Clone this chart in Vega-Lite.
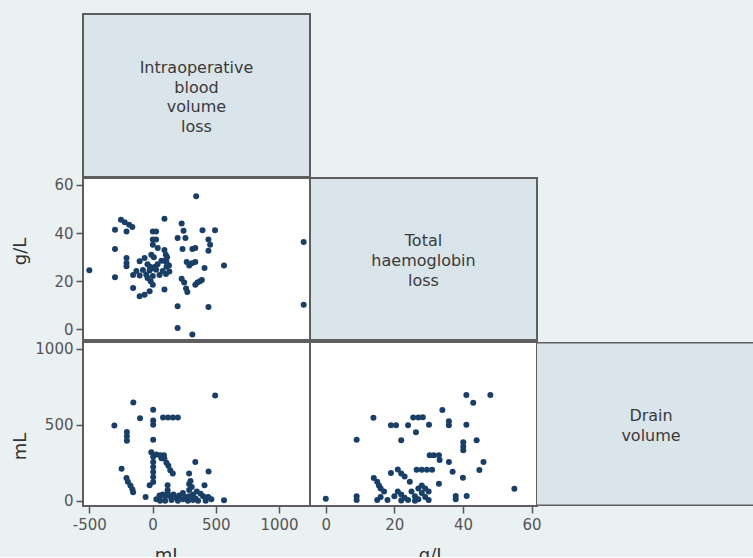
{
  "$schema": "https://vega.github.io/schema/vega-lite/v6.json",
  "background": "#eaf1f3",
  "padding": {"left": 10, "top": 13, "right": 0, "bottom": -8},
  "columns": 3,
  "spacing": 0,
  "bounds": "flush",
  "align": "all",
  "config": {
    "font": "DejaVu Sans",
    "view": {"stroke": "#5e5e5e", "strokeWidth": 2, "fill": "white"},
    "axis": {
      "domain": false, "grid": false, "ticks": true, "tickColor": "#555555", "tickWidth": 1.5, "tickSize": 7,
      "labelFont": "DejaVu Sans", "labelFontSize": 15, "labelColor": "#555555", "labelFlush": false, "labelOverlap": false,
      "labelExpr": "toString(datum.value)",
      "titleFont": "DejaVu Sans", "titleFontSize": 18, "titleColor": "#333333", "titleFontWeight": "normal"
    },
    "axisX": {"labelPadding": 4},
    "axisY": {"labelPadding": 3},
    "point": {"filled": true, "size": 36, "color": "#1a3f66", "opacity": 1}
  },
  "datasets": {
    "hbBlood": [
      {"blood": -500, "hb": 24.5}, {"blood": -297, "hb": 41.4}, {"blood": -297, "hb": 33.4}, {"blood": -297, "hb": 21.6},
      {"blood": -250, "hb": 45.5}, {"blood": -220, "hb": 44.5}, {"blood": -185, "hb": 43.5}, {"blood": -160, "hb": 42.5},
      {"blood": -206, "hb": 40.7}, {"blood": -206, "hb": 29.6}, {"blood": -206, "hb": 27.6}, {"blood": -206, "hb": 26.2},
      {"blood": -154, "hb": 17.2}, {"blood": -154, "hb": 22.6}, {"blood": -128, "hb": 24.2}, {"blood": -102, "hb": 22.4},
      {"blood": -76, "hb": 24.6}, {"blood": -50, "hb": 22.8}, {"blood": -23, "hb": 24.4}, {"blood": 2, "hb": 22.2},
      {"blood": 28, "hb": 24.8}, {"blood": 55, "hb": 22.6}, {"blood": 80, "hb": 24.2}, {"blood": 106, "hb": 23},
      {"blood": 133, "hb": 24}, {"blood": -102, "hb": 28.3}, {"blood": -63, "hb": 29.6}, {"blood": -40, "hb": 27},
      {"blood": -20, "hb": 26}, {"blood": 0, "hb": 25.5}, {"blood": 20, "hb": 26}, {"blood": 40, "hb": 27},
      {"blood": -10, "hb": 31}, {"blood": 10, "hb": 30}, {"blood": 2, "hb": 40.7}, {"blood": 28, "hb": 40.7},
      {"blood": 2, "hb": 37.3}, {"blood": 28, "hb": 37.3}, {"blood": 2, "hb": 35.2}, {"blood": 41, "hb": 33.8},
      {"blood": 94, "hb": 33}, {"blood": 105, "hb": 31}, {"blood": 115, "hb": 30}, {"blood": 70, "hb": 28.5},
      {"blood": 95, "hb": 28.5}, {"blood": 110, "hb": 28}, {"blood": 110, "hb": 26}, {"blood": 130, "hb": 26.5},
      {"blood": -40, "hb": 21.3}, {"blood": -15, "hb": 20}, {"blood": 2, "hb": 18.5}, {"blood": -23, "hb": 15.8},
      {"blood": -63, "hb": 14.4}, {"blood": -102, "hb": 13.7}, {"blood": 94, "hb": 16.5}, {"blood": 94, "hb": 46},
      {"blood": 230, "hb": 44}, {"blood": 245, "hb": 41}, {"blood": 260, "hb": 38}, {"blood": 198, "hb": 38},
      {"blood": 237, "hb": 33.4}, {"blood": 315, "hb": 33.4}, {"blood": 270, "hb": 28}, {"blood": 290, "hb": 26.5},
      {"blood": 338, "hb": 28}, {"blood": 311, "hb": 27.5}, {"blood": 230, "hb": 21}, {"blood": 250, "hb": 19.5},
      {"blood": 265, "hb": 17}, {"blood": 275, "hb": 15.5}, {"blood": 338, "hb": 18.5}, {"blood": 355, "hb": 19.5},
      {"blood": 375, "hb": 20}, {"blood": 390, "hb": 20.5}, {"blood": 198, "hb": 9.6}, {"blood": 198, "hb": 0.5},
      {"blood": 315, "hb": -2.2}, {"blood": 345, "hb": 55.3}, {"blood": 395, "hb": 41.2}, {"blood": 494, "hb": 41.2},
      {"blood": 442, "hb": 37.3}, {"blood": 455, "hb": 35.2}, {"blood": 442, "hb": 32.7}, {"blood": 338, "hb": 33.8},
      {"blood": 411, "hb": 25.5}, {"blood": 565, "hb": 26.5}, {"blood": 442, "hb": 9.3}, {"blood": 1195, "hb": 36.3},
      {"blood": 1195, "hb": 10.2}
    ],
    "drainBlood": [
      {"blood": 495, "drain": 693}, {"blood": -152, "drain": 647}, {"blood": 5, "drain": 599}, {"blood": 5, "drain": 529},
      {"blood": 5, "drain": 500}, {"blood": -99, "drain": 544}, {"blood": 83, "drain": 549}, {"blood": 122, "drain": 549},
      {"blood": 161, "drain": 549}, {"blood": 200, "drain": 549}, {"blood": -302, "drain": 496}, {"blood": -203, "drain": 452},
      {"blood": -203, "drain": 424}, {"blood": -203, "drain": 395}, {"blood": 5, "drain": 401}, {"blood": -10, "drain": 320},
      {"blood": 30, "drain": 305}, {"blood": 5, "drain": 290}, {"blood": 60, "drain": 300}, {"blood": 70, "drain": 280},
      {"blood": 90, "drain": 300}, {"blood": 94, "drain": 276}, {"blood": 110, "drain": 250}, {"blood": 125, "drain": 230},
      {"blood": 140, "drain": 200}, {"blood": 160, "drain": 180}, {"blood": 5, "drain": 255}, {"blood": 5, "drain": 222},
      {"blood": 5, "drain": 189}, {"blood": 5, "drain": 156}, {"blood": 5, "drain": 123}, {"blood": -23, "drain": 101},
      {"blood": -245, "drain": 211}, {"blood": -206, "drain": 150}, {"blood": -195, "drain": 125}, {"blood": -175, "drain": 100},
      {"blood": -160, "drain": 75}, {"blood": -154, "drain": 55}, {"blood": -55, "drain": 24}, {"blood": 55, "drain": 35},
      {"blood": 55, "drain": 13}, {"blood": 119, "drain": 101}, {"blood": 119, "drain": 68}, {"blood": 80, "drain": 40},
      {"blood": 100, "drain": 30}, {"blood": 120, "drain": 45}, {"blood": 140, "drain": 30}, {"blood": 165, "drain": 40},
      {"blood": 190, "drain": 20}, {"blood": 210, "drain": 35}, {"blood": 240, "drain": 10}, {"blood": 260, "drain": 25},
      {"blood": 338, "drain": 255}, {"blood": 289, "drain": 180}, {"blood": 289, "drain": 110}, {"blood": 289, "drain": 70},
      {"blood": 289, "drain": 30}, {"blood": 300, "drain": 130}, {"blood": 310, "drain": 90}, {"blood": 320, "drain": 40},
      {"blood": 340, "drain": 15}, {"blood": 350, "drain": 60}, {"blood": 411, "drain": 101}, {"blood": 443, "drain": 193},
      {"blood": 380, "drain": 45}, {"blood": 400, "drain": 30}, {"blood": 440, "drain": 25}, {"blood": 465, "drain": 10},
      {"blood": 565, "drain": 3}, {"blood": 30, "drain": 10}, {"blood": 60, "drain": 0}, {"blood": 150, "drain": 5},
      {"blood": 280, "drain": 0}, {"blood": 320, "drain": 5}, {"blood": 360, "drain": 0}, {"blood": 420, "drain": 0},
      {"blood": 100, "drain": 0}, {"blood": 200, "drain": 0}, {"blood": 240, "drain": 50}
    ],
    "drainHb": [
      {"hb": 0, "drain": 13}, {"hb": 9, "drain": 401}, {"hb": 9, "drain": 30}, {"hb": 9, "drain": 5},
      {"hb": 13.9, "drain": 546}, {"hb": 19, "drain": 498}, {"hb": 20.5, "drain": 498}, {"hb": 24, "drain": 498},
      {"hb": 25.5, "drain": 548}, {"hb": 27, "drain": 548}, {"hb": 28.3, "drain": 550}, {"hb": 26.3, "drain": 451},
      {"hb": 30.1, "drain": 500}, {"hb": 22, "drain": 399}, {"hb": 34, "drain": 597}, {"hb": 35.9, "drain": 524},
      {"hb": 35.9, "drain": 498}, {"hb": 41, "drain": 500}, {"hb": 41, "drain": 697}, {"hb": 43, "drain": 646},
      {"hb": 48, "drain": 697}, {"hb": 40.1, "drain": 386}, {"hb": 40.1, "drain": 358}, {"hb": 40.1, "drain": 332},
      {"hb": 44, "drain": 399}, {"hb": 30.3, "drain": 300}, {"hb": 31.5, "drain": 300}, {"hb": 33, "drain": 300},
      {"hb": 33.2, "drain": 268}, {"hb": 35.9, "drain": 255}, {"hb": 37, "drain": 191}, {"hb": 46, "drain": 255},
      {"hb": 44.8, "drain": 202}, {"hb": 40, "drain": 152}, {"hb": 33, "drain": 112}, {"hb": 26.5, "drain": 204},
      {"hb": 28, "drain": 204}, {"hb": 29.5, "drain": 204}, {"hb": 31, "drain": 204}, {"hb": 19, "drain": 183},
      {"hb": 21, "drain": 205}, {"hb": 22, "drain": 180}, {"hb": 23, "drain": 160}, {"hb": 24.5, "drain": 125},
      {"hb": 14, "drain": 150}, {"hb": 15, "drain": 125}, {"hb": 15.5, "drain": 100}, {"hb": 16, "drain": 80},
      {"hb": 17, "drain": 60}, {"hb": 16, "drain": 25}, {"hb": 15, "drain": 5}, {"hb": 22, "drain": 40},
      {"hb": 23, "drain": 20}, {"hb": 24, "drain": 5}, {"hb": 25, "drain": 60}, {"hb": 26, "drain": 30},
      {"hb": 27, "drain": 10}, {"hb": 28, "drain": 50}, {"hb": 29, "drain": 25}, {"hb": 30, "drain": 5},
      {"hb": 26, "drain": 0}, {"hb": 22, "drain": 2}, {"hb": 20, "drain": 30}, {"hb": 21, "drain": 60},
      {"hb": 28, "drain": 100}, {"hb": 29, "drain": 80}, {"hb": 30, "drain": 60}, {"hb": 27, "drain": 80},
      {"hb": 37.9, "drain": 31}, {"hb": 37.9, "drain": 9}, {"hb": 41.1, "drain": 31}, {"hb": 55, "drain": 79},
      {"hb": 18, "drain": 5}
    ]
  },
  "concat": [
    {
      "width": 227, "height": 163,
      "view": {"fill": "#dae4eb", "stroke": "#5e5e5e", "strokeWidth": 2},
      "data": {"values": [{"label": "Intraoperative\nblood\nvolume\nloss"}]},
      "mark": {"type": "text", "lineBreak": "\n", "lineHeight": 19.5, "fontSize": 16, "font": "DejaVu Sans", "color": "#3a3a3a", "baseline": "middle", "dy": -27.5},
      "encoding": {"text": {"field": "label", "type": "nominal"}}
    },
    {
      "width": 227, "height": 163, "view": {"stroke": null, "fill": null},
      "data": {"values": []}, "mark": "point"
    },
    {
      "width": 216, "height": 163, "view": {"stroke": null, "fill": null},
      "data": {"values": []}, "mark": "point"
    },
    {
      "width": 227, "height": 162,
      "data": {"name": "hbBlood"},
      "mark": "point",
      "encoding": {
        "x": {"field": "blood", "type": "quantitative", "scale": {"domain": [-550, 1245], "nice": false, "zero": false}, "axis": null},
        "y": {"field": "hb", "type": "quantitative", "scale": {"domain": [-4.45, 62.9], "nice": false, "zero": false},
              "axis": {"values": [0, 20, 40, 60], "title": "g/L", "titleX": -58, "titleY": 73, "titleBaseline": "alphabetic", "titleAngle": 270}}
      }
    },
    {
      "width": 227, "height": 162,
      "view": {"fill": "#dae4eb", "stroke": "#5e5e5e", "strokeWidth": 2},
      "data": {"values": [{"label": "Total\nhaemoglobin\nloss"}]},
      "mark": {"type": "text", "lineBreak": "\n", "lineHeight": 20, "fontSize": 16, "font": "DejaVu Sans", "color": "#3a3a3a", "baseline": "middle", "dy": -18},
      "encoding": {"text": {"field": "label", "type": "nominal"}}
    },
    {
      "width": 216, "height": 162, "view": {"stroke": null, "fill": null},
      "data": {"values": []}, "mark": "point"
    },
    {
      "width": 227, "height": 164,
      "data": {"name": "drainBlood"},
      "mark": "point",
      "encoding": {
        "x": {"field": "blood", "type": "quantitative", "scale": {"domain": [-550, 1245], "nice": false, "zero": false},
              "axis": {"values": [-500, 0, 500, 1000], "title": "mL", "titleX": 85, "titleY": 40, "titleBaseline": "top"}},
        "y": {"field": "drain", "type": "quantitative", "scale": {"domain": [-35, 1046], "nice": false, "zero": false},
              "axis": {"values": [0, 500, 1000], "title": "mL", "titleX": -58, "titleY": 104, "titleBaseline": "alphabetic", "titleAngle": 270}}
      }
    },
    {
      "width": 227, "height": 164,
      "data": {"name": "drainHb"},
      "mark": "point",
      "encoding": {
        "x": {"field": "hb", "type": "quantitative", "scale": {"domain": [-4.6, 61.6], "nice": false, "zero": false},
              "axis": {"values": [0, 20, 40, 60], "title": "g/L", "titleX": 122, "titleY": 40, "titleBaseline": "top"}},
        "y": {"field": "drain", "type": "quantitative", "scale": {"domain": [-35, 1046], "nice": false, "zero": false}, "axis": null}
      }
    },
    {
      "width": 216, "height": 164,
      "view": {"stroke": null, "fill": null},
      "data": {"values": [{"label": "Drain\nvolume"}]},
      "layer": [
        {
          "mark": {"type": "rect", "clip": true, "fill": "#dae4eb", "stroke": "#5e5e5e", "strokeWidth": 2},
          "encoding": {
            "x": {"datum": -0.01, "type": "quantitative", "scale": {"domain": [0, 0.947], "nice": false, "zero": false}, "axis": null},
            "x2": {"datum": 1},
            "y": {"datum": 0, "type": "quantitative", "scale": {"domain": [-0.003, 1.003], "nice": false, "zero": false}, "axis": null},
            "y2": {"datum": 1}
          }
        },
        {
          "mark": {"type": "text", "lineBreak": "\n", "lineHeight": 20, "fontSize": 16, "font": "DejaVu Sans", "color": "#3a3a3a", "baseline": "middle", "dy": -8},
          "encoding": {
            "x": {"datum": 0.5, "type": "quantitative"},
            "y": {"datum": 0.5, "type": "quantitative"},
            "text": {"field": "label", "type": "nominal"}
          }
        }
      ]
    }
  ]
}
